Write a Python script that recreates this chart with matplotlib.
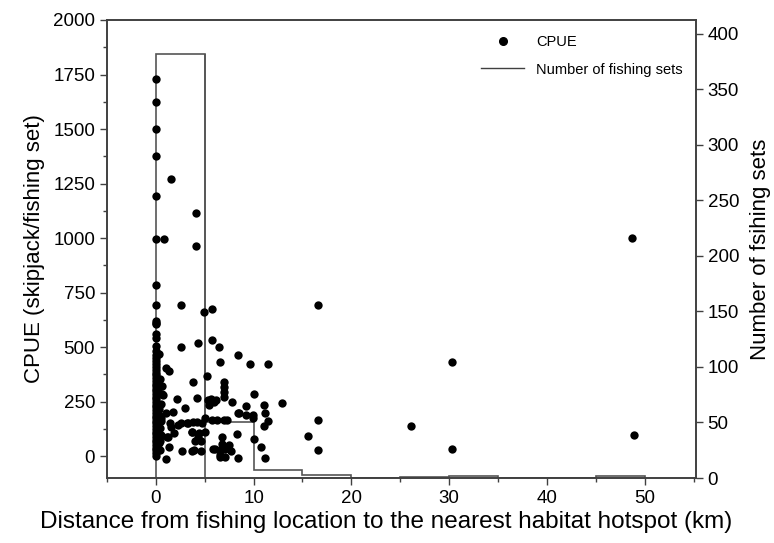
import numpy as np
import matplotlib
matplotlib.use("Agg")
import matplotlib.pyplot as plt
from matplotlib.lines import Line2D
from matplotlib.ticker import MultipleLocator

plt.rcParams['font.family'] = ['Liberation Sans', 'DejaVu Sans']

# CPUE points: distance (km), CPUE
col0_y = [1730, 1625, 1500, 1375, 1195, 995, 785, 695, 620, 612, 604, 560, 540,
          505, 482, 462, 448, 436, 421, 408, 396, 383, 371, 358, 347, 333, 322,
          309, 297, 284, 272, 261, 248, 236, 224, 211, 199, 186, 174, 163, 150,
          138, 126, 113, 101, 88, 76, 63, 51, 38, 27, 14, 3]
cpue_x = [0.0] * len(col0_y) + [
    0.3, 0.4, 0.3, 0.5, 0.3, 0.4, 0.5, 0.3, 0.4, 0.6, 0.3, 0.5, 0.4,
    0.85, 1.56, 4.08, 4.08, 2.55, 4.9, 5.7, 2.55, 4.35, 5.7, 6.5, 8.4,
    6.56, 9.6, 11.5, 1.1, 1.35, 5.2, 3.85, 7.0, 7.0, 7.0, 7.0, 0.7, 4.25,
    2.2, 5.3, 5.8, 6.2, 5.4, 7.75, 10.0, 3.0, 9.25, 8.4, 1.1, 1.8, 1.45,
    1.6, 2.3, 3.3, 3.85, 4.25, 5.0, 5.8, 6.3, 7.0, 9.9, 9.2, 2.55, 3.2,
    4.7, 1.9, 3.75, 4.4, 5.0, 8.3, 1.3, 4.35, 6.8, 4.0, 4.6, 6.8, 10.0,
    5.9, 6.05, 7.1, 7.5, 1.35, 2.65, 3.75, 4.6, 3.9, 6.6, 7.65, 10.8,
    1.0, 6.56, 7.04, 8.4, 11.15, 11.05, 11.15, 11.5, 11.05, 12.9, 8.5,
    9.9, 15.6, 16.6, 16.6, 16.6, 26.1, 30.3, 30.3, 48.9, 48.7, 3.7, 1.2,
    5.6, 5.95, 7.3, 6.6, 0.6, 0.5]
cpue_y = list(col0_y) + [
    470, 352, 290, 240, 190, 130, 95, 60, 30, 320, 215, 160, 70,
    994, 1269, 1115, 963, 693, 662, 677, 501, 520, 532, 501, 463,
    433, 421, 421, 405, 390, 367, 341, 341, 318, 295, 272, 280, 267,
    260, 257, 257, 257, 237, 249, 283, 222, 230, 199, 199, 203, 153,
    135, 142, 150, 157, 157, 173, 168, 168, 168, 188, 188, 150, 150,
    150, 107, 111, 107, 111, 100, 89, 89, 89, 69, 69, 58, 78,
    35, 35, 35, 50, 43, 24, 24, 24, 28, 28, 23, 40,
    -11, -3, -3, -8, -8, 234, 199, 161, 138, 243, 196,
    175, 92, 693, 168, 28, 139, 430, 31, 96, 1000, 111, 89,
    260, 249, 168, 5, 283, 174]

# number of fishing sets per 5 km bin
bin_edges = [0, 5, 10, 15, 20, 25, 30, 35, 40, 45, 50]
set_counts = [382, 50, 7, 3, 0, 1, 1.5, 0, 0, 1.5]

fig = plt.figure(figsize=(7.74, 5.43), dpi=100)
ax = fig.add_axes([0.138, 0.1197, 0.761, 0.8435])
ax2 = ax.twinx()

line_col = '#404040'
ax2.stairs(set_counts, bin_edges, fill=False, color='#555555', linewidth=1.2,
           baseline=0)
ax2.vlines(bin_edges[1:2], 0, set_counts[0], color='#555555', linewidth=1.2)
ax2.set_ylim(0, 412.5)
ax2.yaxis.set_major_locator(MultipleLocator(50))
ax2.set_ylabel("Number of fsihing sets", fontsize=16, labelpad=8)

ax.scatter(cpue_x, cpue_y, s=36, color='black', zorder=3, linewidths=0)
ax.set_xlim(-5, 55.2)
ax.set_ylim(-100, 2000)
ax.xaxis.set_major_locator(MultipleLocator(10))
ax.xaxis.set_minor_locator(MultipleLocator(5))
ax.yaxis.set_major_locator(MultipleLocator(250))
ax.yaxis.set_minor_locator(MultipleLocator(125))
ax.set_xlabel("Distance from fishing location to the nearest habitat hotspot (km)",
              fontsize=17.5)
ax.xaxis.set_label_coords(0.475, -0.073)
ax.set_ylabel("CPUE (skipjack/fishing set)", fontsize=16, labelpad=6)
ax.set_zorder(ax2.get_zorder() + 1)
ax.patch.set_visible(False)

for a in (ax, ax2):
    a.tick_params(which='major', direction='out', length=5, width=1,
                  labelsize=13.5, color=line_col)
    a.tick_params(which='minor', direction='out', length=3, width=1,
                  color=line_col)
    for sp in a.spines.values():
        sp.set_color(line_col)
        sp.set_linewidth(1.2)

handles = [Line2D([], [], marker='o', linestyle='none', color='black',
                  markersize=5.5),
           Line2D([], [], color=line_col, linewidth=1)]
ax.legend(handles, ["CPUE", "Number of fishing sets"], loc='upper right',
          frameon=False, fontsize=10.5, handlelength=3, labelspacing=0.9,
          bbox_to_anchor=(1.0, 0.995))

fig.savefig("out.png", dpi=100)
